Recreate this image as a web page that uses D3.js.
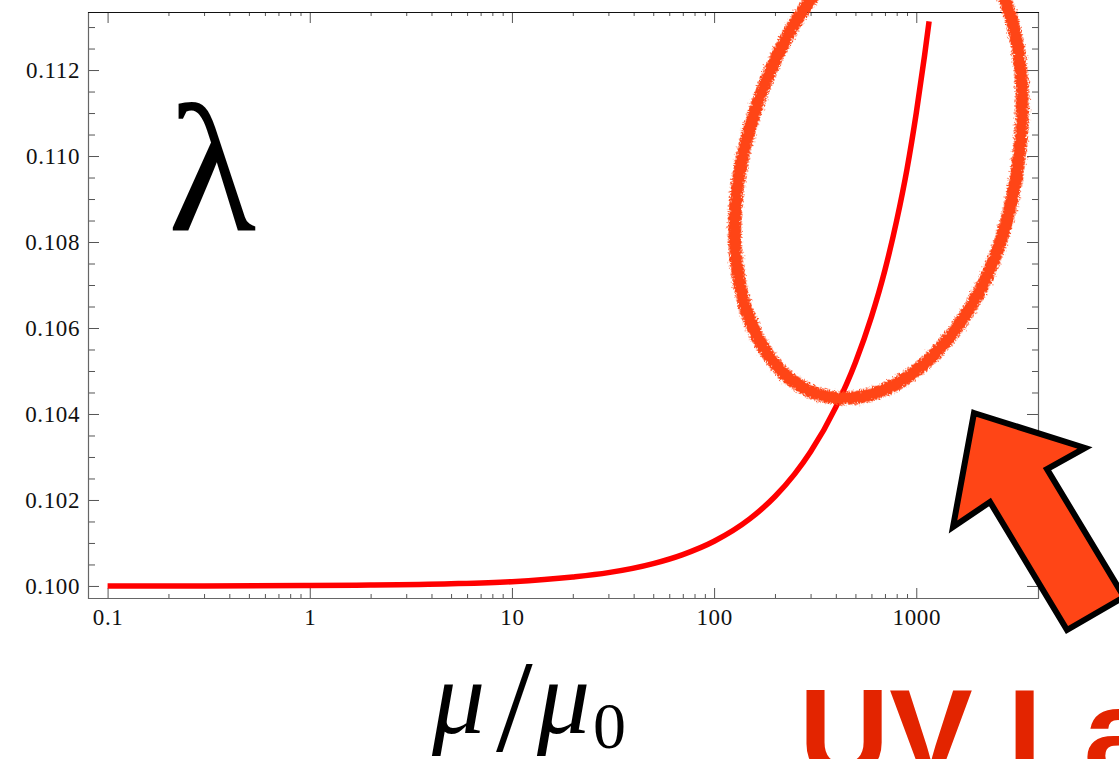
<!DOCTYPE html>
<html>
<head>
<meta charset="utf-8">
<script src="https://cdn.jsdelivr.net/npm/d3@7"></script>
<style>
  html, body { margin: 0; padding: 0; background: #fff; overflow: hidden; }
  svg { display: block; }
</style>
</head>
<body>
<svg id="chart" width="1119" height="759"></svg>
<script>
// ---- data ----
const mu = [0.1, 0.3, 1, 2, 5, 10, 20, 30, 50, 70, 100, 150, 200, 250, 300, 400, 500, 600, 700, 800, 900, 1000, 1100, 1157];
const lambda = [0.10000, 0.10000, 0.10001, 0.10002, 0.10005, 0.10010, 0.10021, 0.10031, 0.10052, 0.10073,
                0.10104, 0.10156, 0.10208, 0.10260, 0.10312, 0.10416, 0.10520, 0.10626, 0.10735, 0.10850,
                0.10970, 0.11100, 0.11235, 0.11313];
const xMajorTicks = [0.1, 1, 10, 100, 1000];
const xTickLabels = ["0.1", "1", "10", "100", "1000"];
const yMajorTicks = [0.100, 0.102, 0.104, 0.106, 0.108, 0.110, 0.112];
const yTickLabels = ["0.100", "0.102", "0.104", "0.106", "0.108", "0.110", "0.112"];
const xDomain = [0.08, 4000];
const yDomain = [0.09972, 0.11335];
const yMinorStep = 0.0005;
const yMinorMax = 0.113;
// annotation: hand-drawn ellipse around the steep part (center in data coords)
const ellipseCenter = {mu: 638, lambda: 0.10944};
const titleLabel = "λ";
const annotationText = "UV Landau pole";

// ---- layout ----
const L = 88, R = 1038, T = 12, B = 598;
const svg = d3.select("#chart");

const x = d3.scaleLog().domain(xDomain).range([L, R]);
const y = d3.scaleLinear().domain(yDomain).range([B, T]);

// minor ticks
const xMinor = [];
xMajorTicks.slice(0, -1).forEach(d => { for (let k = 2; k <= 9; k++) xMinor.push(d * k); });
const yMinor = d3.range(0, Math.round((yMinorMax - 0.1) / yMinorStep) + 1)
  .map(i => +(0.1 + i * yMinorStep).toFixed(4))
  .filter(v => !yMajorTicks.some(m => Math.abs(m - v) < 1e-7));

const defs = svg.append("defs");
const f = defs.append("filter").attr("id", "rough")
  .attr("x", "-20%").attr("y", "-20%").attr("width", "140%").attr("height", "140%");
f.append("feTurbulence").attr("type", "fractalNoise").attr("baseFrequency", 0.9)
  .attr("numOctaves", 2).attr("seed", 4).attr("result", "noise");
f.append("feDisplacementMap").attr("in", "SourceGraphic").attr("in2", "noise")
  .attr("scale", 8).attr("xChannelSelector", "R").attr("yChannelSelector", "G");

const tickColor = "#555";
const labelFont = "'Liberation Serif', 'Times New Roman', serif";

function styleAxis(g) {
  g.select(".domain").remove();
  g.selectAll(".tick line").attr("stroke", tickColor);
  g.selectAll("text").attr("fill", "#111").style("font-family", labelFont)
    .style("font-size", "23px").style("letter-spacing", "0.6px");
}

// bottom axis
svg.append("g").attr("transform", `translate(0,${B})`)
  .call(d3.axisBottom(x).tickValues(xMajorTicks).tickSize(-10).tickPadding(11)
    .tickFormat((d, i) => xTickLabels[i]))
  .call(styleAxis);
svg.append("g").attr("transform", `translate(0,${B})`)
  .call(d3.axisBottom(x).tickValues(xMinor).tickSize(-4).tickFormat(""))
  .call(styleAxis);
// top axis
svg.append("g").attr("transform", `translate(0,${T})`)
  .call(d3.axisTop(x).tickValues(xMajorTicks).tickSize(-11).tickFormat(""))
  .call(styleAxis);
svg.append("g").attr("transform", `translate(0,${T})`)
  .call(d3.axisTop(x).tickValues(xMinor).tickSize(-4).tickFormat(""))
  .call(styleAxis);
// left axis
svg.append("g").attr("transform", `translate(${L},0)`)
  .call(d3.axisLeft(y).tickValues(yMajorTicks).tickSize(-11).tickPadding(8)
    .tickFormat((d, i) => yTickLabels[i]))
  .call(styleAxis);
svg.append("g").attr("transform", `translate(${L},0)`)
  .call(d3.axisLeft(y).tickValues(yMinor).tickSize(-7).tickFormat(""))
  .call(styleAxis);
// right axis
svg.append("g").attr("transform", `translate(${R},0)`)
  .call(d3.axisRight(y).tickValues(yMajorTicks).tickSize(-11).tickFormat(""))
  .call(styleAxis);
svg.append("g").attr("transform", `translate(${R},0)`)
  .call(d3.axisRight(y).tickValues(yMinor).tickSize(-6).tickFormat(""))
  .call(styleAxis);

// frame
svg.append("line").attr("x1", L + 0.5).attr("x2", L + 0.5).attr("y1", T).attr("y2", B + 1)
  .attr("stroke", "#666").attr("stroke-width", 1.2);
svg.append("line").attr("x1", R + 0.5).attr("x2", R + 0.5).attr("y1", T).attr("y2", B + 1)
  .attr("stroke", "#666").attr("stroke-width", 1.2);
svg.append("line").attr("x1", L).attr("x2", R + 1).attr("y1", B + 0.5).attr("y2", B + 0.5)
  .attr("stroke", "#666").attr("stroke-width", 1.2);
svg.append("line").attr("x1", L).attr("x2", R + 1).attr("y1", T + 0.5).attr("y2", T + 0.5)
  .attr("stroke", "#111").attr("stroke-width", 1.2);

// curve
const pts = mu.map((m, i) => [m, lambda[i]]);
svg.append("path").datum(pts)
  .attr("fill", "none").attr("stroke", "#ff0000").attr("stroke-width", 5.5)
  .attr("d", d3.line().x(d => x(d[0])).y(d => y(d[1])).curve(d3.curveMonotoneX));

// lambda label
svg.append("text").attr("x", 168).attr("y", 230)
  .style("font-family", labelFont).style("font-size", "182px").attr("fill", "#000")
  .text(titleLabel);

// x-axis label mu/mu0
const mathStyle = sel => sel.style("font-family", labelFont).attr("fill", "#000");
svg.append("text").attr("x", 432).attr("y", 733).call(mathStyle)
  .style("font-size", "106px").style("font-style", "italic").text("μ");
svg.append("text").attr("x", 496).attr("y", 751).call(mathStyle)
  .style("font-size", "132px").text("/");
svg.append("text").attr("x", 537).attr("y", 733).call(mathStyle)
  .style("font-size", "106px").style("font-style", "italic").text("μ");
svg.append("text").attr("x", 593).attr("y", 748).call(mathStyle)
  .style("font-size", "66px").text("0");

// hand-drawn ellipse annotation (egg shape: taller upper half)
const ecx = x(ellipseCenter.mu), ecy = y(ellipseCenter.lambda);
const eRx = 136, eRyTop = 258, eRyBottom = 222;
const ellipsePts = d3.range(0, 361, 3).map(a => {
  const t = a * Math.PI / 180, s = Math.sin(t);
  return [eRx * Math.cos(t), (s > 0 ? eRyBottom : eRyTop) * s];
});
svg.append("path")
  .attr("d", d3.line().curve(d3.curveCatmullRomClosed)(ellipsePts.slice(0, -1)))
  .attr("transform", `translate(${ecx},${ecy}) rotate(13.6)`)
  .attr("fill", "none").attr("stroke", "#ff4416").attr("stroke-width", 13)
  .attr("filter", "url(#rough)");

// big arrow pointing to the ellipse
const arrowPts = [[974, 413], [1085, 448], [1047, 469], [1124, 597], [1067, 630], [990, 502], [953, 527]];
svg.append("path")
  .attr("d", d3.line()(arrowPts) + "Z")
  .attr("fill", "#ff4516").attr("stroke", "#000").attr("stroke-width", 6)
  .attr("stroke-linejoin", "miter");

// annotation text
svg.append("text").attr("x", 799).attr("y", 776)
  .style("font-family", "'Liberation Sans', Arial, sans-serif").style("font-weight", "bold")
  .style("font-size", "125px").attr("fill", "#e32400")
  .text(annotationText);
</script>
</body>
</html>
